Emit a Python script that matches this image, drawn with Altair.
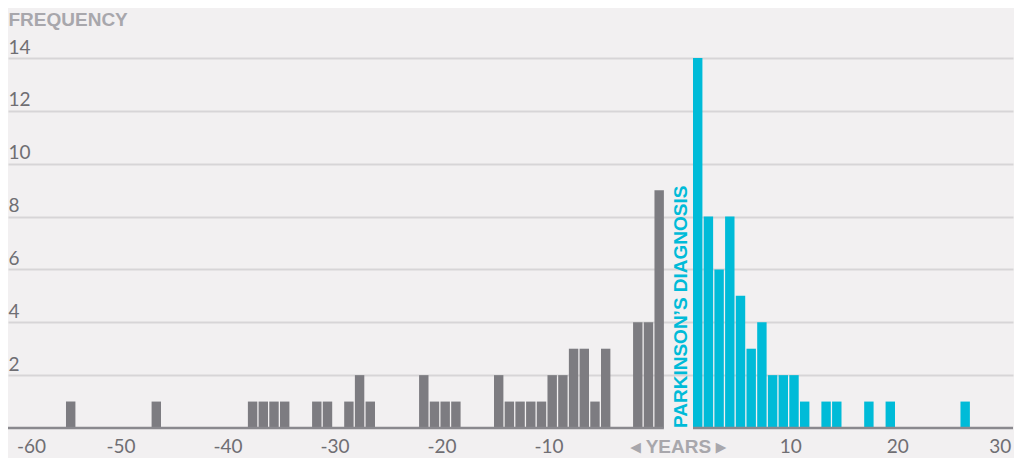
import altair as alt
import pandas as pd

# ---- data ----
gray_years = [-55, -47, -38, -37, -36, -35, -32, -31, -29, -28, -27, -22, -21, -20,
              -19, -15, -14, -13, -12, -11, -10, -9, -8, -7, -6, -5, -2, -1, 0]
gray_counts = [1, 1, 1, 1, 1, 1, 1, 1, 1, 2, 1, 2, 1, 1,
               1, 2, 1, 1, 1, 1, 2, 2, 3, 3, 1, 3, 4, 4, 9]
cyan_years = [1, 2, 3, 4, 5, 6, 7, 8, 9, 10, 11, 13, 14, 17, 19, 26]
cyan_counts = [14, 8, 6, 8, 5, 3, 4, 2, 2, 2, 1, 1, 1, 1, 1, 1]
x_ticks = [-60, -50, -40, -30, -20, -10, 10, 20, 30]
y_ticks = [2, 4, 6, 8, 10, 12, 14]

BG = "#f2f0f1"
GRAY = "#7d7c81"
CYAN = "#00bbd8"
GRID = "#d7d5d7"
AXIS = "#8a898e"
LABEL = "#6f6e73"
TITLE = "#a8a7ac"

W, H = 1005, 370
LABEL_Y = H + 25          # baseline of the x tick labels, in pixels below the plot top
BAR_W = 0.88
# piecewise x scale: a gap is opened between the "before" and "after" halves
X_DOMAIN = [-60.42, 0.9, 1.0, 30.91]
X_RANGE = [0, 656.1, 685, W]
GAP_MID = (X_DOMAIN[1] + X_DOMAIN[2]) / 2

df = pd.DataFrame({
    "year": gray_years + cyan_years,
    "count": gray_counts + cyan_counts,
    "side": ["before"] * len(gray_years) + ["after"] * len(cyan_years),
})

segments = pd.DataFrame({
    "start": [X_DOMAIN[0], min(cyan_years)],
    "end": [max(gray_years) + BAR_W, X_DOMAIN[-1]],
})

note = pd.DataFrame({"x": [GAP_MID + 0.01], "label": ["PARKINSON\u2019S DIAGNOSIS"]})
years_note = pd.DataFrame({"x": [GAP_MID], "label": ["\u25C2 YEARS \u25B8"]})


def tick_frame(vals):
    return pd.DataFrame({"v": vals, "label": [str(v) for v in vals]})


x_scale = alt.Scale(domain=X_DOMAIN, range=X_RANGE, nice=False, zero=False)
y_scale = alt.Scale(domain=[0, 14], nice=False, zero=True)

y_axis = alt.Axis(
    values=y_ticks, domain=False, ticks=False, tickSize=0, grid=True,
    gridColor=GRID, gridWidth=2,
    labelFont="Lato", labelFontSize=19, labelColor=LABEL,
    labelAlign="left", labelBaseline="alphabetic", labelPadding=0, labelOffset=-5,
    title="FREQUENCY", titleAngle=0, titleAlign="left", titleBaseline="alphabetic",
    titleX=0, titleY=-32.5, titleFont="Liberation Sans", titleFontWeight="bold",
    titleFontSize=19, titleColor=TITLE,
)

bars = alt.Chart(df).transform_calculate(
    x_end=f"datum.year + {BAR_W}"
).mark_bar().encode(
    x=alt.X("year:Q", scale=x_scale, axis=None),
    x2="x_end:Q",
    y=alt.Y("count:Q", scale=y_scale, axis=y_axis),
    y2=alt.datum(0),
    color=alt.Color("side:N", scale=alt.Scale(domain=["before", "after"], range=[GRAY, CYAN]),
                    legend=None),
)

rule = alt.Chart(segments).mark_rule(color=AXIS, strokeWidth=2.5).encode(
    x=alt.X("start:Q", scale=x_scale, axis=None),
    x2="end:Q",
    y=alt.datum(0),
)

diag = alt.Chart(note).mark_text(
    angle=270, align="left", baseline="middle", font="Liberation Sans",
    fontWeight="bold", fontSize=19, color=CYAN,
).encode(
    x=alt.X("x:Q", scale=x_scale, axis=None),
    y=alt.datum(0),
    text="label:N",
)

label_style = dict(font="Lato", fontSize=19, color=LABEL, baseline="alphabetic")


def tick_layer(vals, align, dx):
    return alt.Chart(tick_frame(vals)).mark_text(align=align, dx=dx, **label_style).encode(
        x=alt.X("v:Q", scale=x_scale, axis=None),
        y=alt.value(LABEL_Y),
        text="label:N",
    )


ticks_first = tick_layer(x_ticks[:1], "left", 4.5)
ticks_mid = tick_layer(x_ticks[1:-1], "center", 1.5)
ticks_last = tick_layer(x_ticks[-1:], "center", -3)

years = alt.Chart(years_note).mark_text(
    align="center", baseline="alphabetic", font="Liberation Sans", fontWeight="bold",
    fontSize=19, color=TITLE,
).encode(
    x=alt.X("x:Q", scale=x_scale, axis=None),
    y=alt.value(LABEL_Y),
    text="label:N",
)

chart = alt.layer(bars, rule, diag, ticks_first, ticks_mid, ticks_last, years).properties(
    width=W, height=H,
    padding={"left": 0, "top": 50, "right": 1, "bottom": 30},
    autosize=alt.AutoSizeParams(type="none"),
).configure(background=BG).configure_view(stroke=None)

chart.save("out.html", embed_options={"renderer": "svg", "actions": False})
